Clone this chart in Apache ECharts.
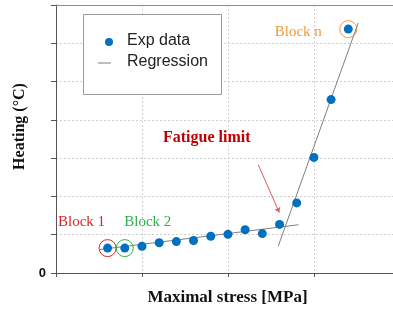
<!DOCTYPE html>
<html>
<head>
<meta charset="utf-8">
<script src="https://cdn.jsdelivr.net/npm/echarts@6/dist/echarts.min.js"></script>
<style>
  html, body { margin: 0; padding: 0; background: #fff; }
  #chart { width: 393px; height: 314px; }
</style>
</head>
<body>
<div id="chart"></div>
<script>

// measured points (stress step in arbitrary units, heating in grid units)
var stress = [0.6, 0.8, 1.0, 1.2, 1.4, 1.6, 1.8, 2.0, 2.2, 2.4, 2.6, 2.8, 3.0, 3.2, 3.4];
var heating = [0.65, 0.65, 0.70, 0.79, 0.82, 0.85, 0.96, 1.01, 1.13, 1.03, 1.27, 1.83, 3.02, 4.53, 6.37];

// regression segments [x, y]
var regLow = [[0.5, 0.61], [2.82, 1.26]];
var regHigh = [[2.585, 0.70], [3.515, 6.53]];

// fatigue limit arrow
var arrowFrom = [2.352, 2.83];
var arrowTo = [2.597, 1.58];

var blockNames = ['Block 1', 'Block 2', 'Block n'];


function showHeatingChart() {

	var myChart = echarts.init(document.getElementById('chart'));

	var expData = stress.map(function (s, i) { return [s, heating[i]]; });
	var last = expData.length - 1;

	function ring(point, name, color, offset) {
		return {
			type: 'scatter',
			symbol: 'circle',
			symbolSize: 17,
			silent: true,
			z: 1,
			itemStyle: { color: 'rgba(0,0,0,0)', borderColor: color, borderWidth: 1, opacity: 1 },
			label: {
				show: true,
				formatter: name,
				position: 'inside',
				offset: offset,
				color: color,
				opacity: 1,
				textBorderWidth: 0,
				fontFamily: 'Liberation Serif',
				fontSize: 15
			},
			data: [point]
		};
	}

	var option = {
		animation: false,
		backgroundColor: '#fff',
		grid: { left: 56, top: 5, right: 0, bottom: 41 },
		xAxis: [{
			type: 'value',
			min: 0, max: 3.92, interval: 1,
			name: 'Maximal stress [MPa]',
			nameLocation: 'middle',
			nameGap: 16,
			nameTextStyle: { fontFamily: 'Liberation Serif', fontWeight: 'bold', fontSize: 17, color: '#111', padding: [0, 0, 0, 6] },
			axisLine: { lineStyle: { color: '#555' } },
			axisTick: { length: 4, lineStyle: { color: '#555' } },
			axisLabel: { show: false },
			splitLine: { lineStyle: { color: '#cfcfcf', type: [2, 2] } }
		}, {
			// top frame line
			type: 'value',
			position: 'top',
			min: 0, max: 3.92,
			axisLine: { show: true, lineStyle: { color: '#8a8a8a' } },
			axisTick: { show: false },
			axisLabel: { show: false },
			splitLine: { show: false }
		}],
		yAxis: {
			type: 'value',
			min: 0, max: 7, interval: 1,
			name: 'Heating (°C)',
			nameLocation: 'middle',
			nameGap: 23,
			nameTextStyle: { fontFamily: 'Liberation Serif', fontWeight: 'bold', fontSize: 16, color: '#111', padding: [0, 0, 0, 25] },
			axisLine: { show: true, lineStyle: { color: '#555' } },
			axisTick: { show: true, length: 5, lineStyle: { color: '#555' } },
			axisLabel: {
				margin: 10,
				formatter: function (v) { return v === 0 ? '0' : ''; },
				fontFamily: 'Liberation Sans', fontWeight: 'bold', fontSize: 13, color: '#111'
			},
			splitLine: { lineStyle: { color: '#cfcfcf', type: [2, 2] } }
		},
		series: [
			{
				name: 'Regression',
				type: 'line',
				symbol: 'none',
				silent: true,
				lineStyle: { color: '#7f7f7f', width: 1 },
				data: regLow,
				markLine: {
					silent: true,
					symbol: ['none', 'arrow'],
					symbolSize: 5,
					label: { show: false },
					lineStyle: { color: '#e05a5a', width: 1, type: 'solid' },
					data: [[{ coord: arrowFrom }, { coord: arrowTo }]]
				}
			},
			{
				name: 'Regression',
				type: 'line',
				symbol: 'none',
				silent: true,
				lineStyle: { color: '#7f7f7f', width: 1 },
				data: regHigh
			},
			ring(expData[0], blockNames[0], '#d9262b', [-26, -26]),
			ring(expData[1], blockNames[1], '#2eb04f', [23, -26]),
			ring(expData[last], blockNames[2], '#f39a3c', [-50, 3]),
			{
				name: 'Exp data',
				type: 'scatter',
				symbol: 'circle',
				symbolSize: 9,
				z: 3,
				itemStyle: { color: '#0070c0', opacity: 1 },
				data: expData
			}
		],
		graphic: [
			// legend box
			{ type: 'rect', left: 83, top: 14, shape: { width: 138, height: 80 },
			  style: { fill: '#fff', stroke: '#9a9a9a', lineWidth: 1 }, z: 10 },
			{ type: 'circle', shape: { cx: 109, cy: 42, r: 4 }, style: { fill: '#0070c0' }, z: 11 },
			{ type: 'text', left: 127, top: 33, z: 11,
			  style: { text: 'Exp data', font: '16px "Liberation Sans"', fill: '#222' } },
			{ type: 'line', shape: { x1: 98, y1: 63, x2: 111, y2: 63 }, style: { stroke: '#7f7f7f', lineWidth: 1 }, z: 11 },
			{ type: 'text', left: 127, top: 54, z: 11,
			  style: { text: 'Regression', font: '16px "Liberation Sans"', fill: '#222' } },
			// fatigue limit label
			{ type: 'text', left: 163, top: 130, z: 11,
			  style: { text: 'Fatigue limit', font: 'bold 16px "Liberation Serif"', fill: '#c00000',
			           backgroundColor: '#fff' } }
		]
	};

	// show the Chart
	myChart.setOption(option);
}

showHeatingChart();
</script>
</body>
</html>
